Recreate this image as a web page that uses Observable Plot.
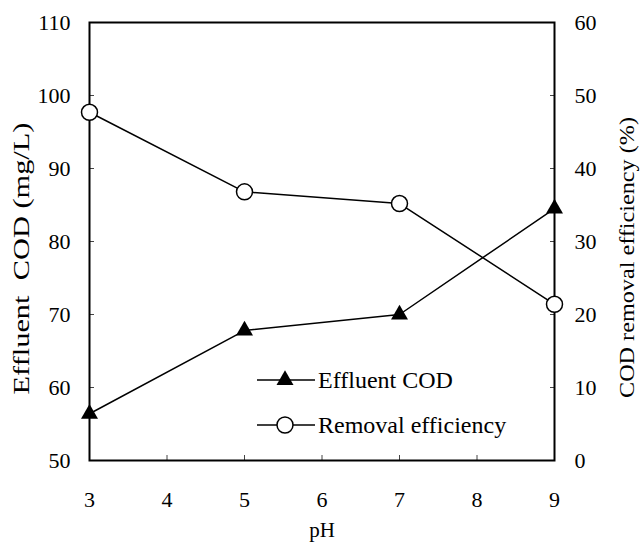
<!DOCTYPE html>
<html><head><meta charset="utf-8">
<script src="https://cdn.jsdelivr.net/npm/d3@7"></script>
<script src="https://cdn.jsdelivr.net/npm/@observablehq/plot@0.6"></script>
<style>body{margin:0;background:#fff} #chart{position:relative;width:642px;height:545px}</style>
</head><body><div id="chart"></div>
<script>
const pH = [3, 5, 7, 9];
const effluentCOD = [56.4, 67.8, 70.0, 84.5];
const removalEfficiency = [47.7, 36.8, 35.2, 21.4];
const xTicks = [3, 4, 5, 6, 7, 8, 9];
const leftTicks = [50, 60, 70, 80, 90, 100, 110];
const rightTicks = [0, 10, 20, 30, 40, 50, 60];
const seriesNames = ["Effluent COD", "Removal efficiency"];
const xTitle = "pH";
const leftTitle = "Effluent  COD (mg/L)";
const rightTitle = "COD removal efficiency (%)";

const OFFSET = 50; // right axis 0..60 maps onto left 50..110
const cod = pH.map((p, i) => ({pH: p, v: effluentCOD[i]}));
const rem = pH.map((p, i) => ({pH: p, v: removalEfficiency[i] + OFFSET}));
const FONT = "'Liberation Serif','Times New Roman',serif";

const plot = Plot.plot({
  width: 642, height: 545,
  marginTop: 22, marginLeft: 89, marginRight: 88, marginBottom: 85,
  style: {fontFamily: FONT, fontSize: "22px", color: "#000", background: "#fff"},
  x: {domain: [3, 9]},
  y: {domain: [50, 110]},
  marks: [
    Plot.axisX({ticks: xTicks, tickFormat: d => String(d), tickSize: -5, tickPadding: 36, label: null,
                stroke: "#444", fontFamily: FONT, fontSize: 22, fill: "#000"}),
    Plot.axisY({anchor: "left", ticks: leftTicks, tickFormat: d => String(d), tickSize: -5, tickPadding: 24, label: null,
                stroke: "#444", fontFamily: FONT, fontSize: 22, fill: "#000"}),
    Plot.axisY({anchor: "right", ticks: rightTicks.map(d => d + OFFSET), tickFormat: d => String(d - OFFSET),
                tickSize: -5, tickPadding: 25, label: null, stroke: "#444", fontFamily: FONT, fontSize: 22, fill: "#000"}),
    Plot.frame({stroke: "#000", strokeWidth: 2}),
    Plot.line(cod, {x: "pH", y: "v", stroke: "#000", strokeWidth: 1.5}),
    Plot.line(rem, {x: "pH", y: "v", stroke: "#000", strokeWidth: 1.5}),
    Plot.dot(cod, {x: "pH", y: "v", symbol: "triangle", r: 6.3, fill: "#000", stroke: "none"}),
    Plot.dot(rem, {x: "pH", y: "v", symbol: "circle", r: 8, fill: "#fff", stroke: "#000", strokeWidth: 1.5}),
    Plot.text([leftTitle], {frameAnchor: "left", rotate: -90, dx: -68, dy: 17, text: d => d, textAnchor: "middle",
                lineAnchor: "middle", fontSize: 23, fontFamily: FONT, fill: "#000"}),
    Plot.text([rightTitle], {frameAnchor: "right", rotate: -90, dx: 73, dy: 16, text: d => d, textAnchor: "middle",
                lineAnchor: "middle", fontSize: 21, fontFamily: FONT, fill: "#000"}),
    Plot.text([xTitle], {frameAnchor: "bottom", dy: 70, text: d => d, textAnchor: "middle", lineAnchor: "middle",
                fontSize: 21, fontFamily: FONT, fill: "#000"})
  ]
});
document.getElementById("chart").appendChild(plot);

const svg = d3.select(plot);
// match the rotated axis titles' length seen in the reference
svg.selectAll("text").filter(function () { return this.textContent === leftTitle; })
  .attr("textLength", 272).attr("lengthAdjust", "spacingAndGlyphs");
svg.selectAll("text").filter(function () { return this.textContent === rightTitle; })
  .attr("textLength", 281).attr("lengthAdjust", "spacingAndGlyphs");

// legend
const lg = svg.append("g").attr("font-family", FONT).attr("font-size", 24).attr("text-anchor", "start");
const rows = [
  {name: seriesNames[0], y: 380, sym: "triangle"},
  {name: seriesNames[1], y: 425, sym: "circle"}
];
rows.forEach(r => {
  const g = lg.append("g");
  g.append("line").attr("x1", 257).attr("x2", 315).attr("y1", r.y).attr("y2", r.y)
    .attr("stroke", "#000").attr("stroke-width", 1.5);
  if (r.sym === "triangle") {
    g.append("path").attr("d", d3.symbol(d3.symbolTriangle, Math.PI * 6.3 * 6.3)())
      .attr("transform", `translate(285,${r.y})`).attr("fill", "#000");
  } else {
    g.append("circle").attr("cx", 285).attr("cy", r.y).attr("r", 8)
      .attr("fill", "#fff").attr("stroke", "#000").attr("stroke-width", 1.5);
  }
  g.append("text").attr("x", 318).attr("y", r.y).attr("dy", "0.35em").attr("fill", "#000")
    .attr("text-anchor", "start").text(r.name);
});
</script>
</body></html>
